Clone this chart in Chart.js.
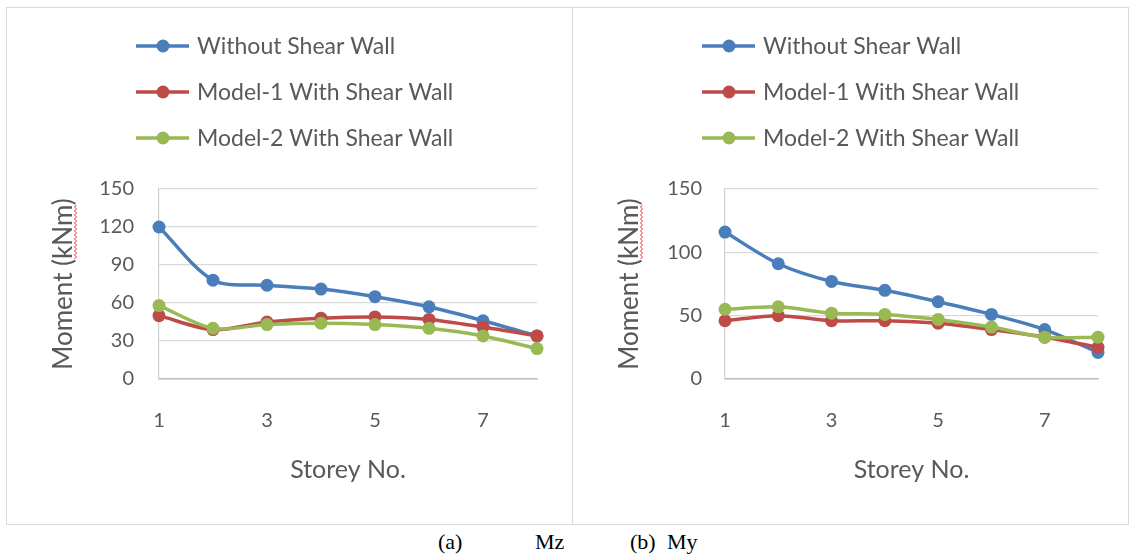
<!DOCTYPE html>
<html>
<head>
<meta charset="utf-8">
<script src="https://cdn.jsdelivr.net/npm/chart.js"></script>
<style>
  html, body { margin: 0; padding: 0; background: #fff; }
  body { width: 1130px; height: 559px; position: relative; overflow: hidden; }
  .box { position: absolute; top: 7px; height: 516px; border: 1px solid #d9d9d9; background: #fff; }
  #boxMz { left: 6px; width: 565px; }
  #boxMy { left: 572px; width: 555px; }
  .cap { position: absolute; top: 529px; font-family: "Liberation Serif", "DejaVu Serif", serif; font-size: 22px; color: #000; }
</style>
</head>
<body>
<div class="box" id="boxMz"><canvas id="graficoMz" width="565" height="516"></canvas></div>
<div class="box" id="boxMy"><canvas id="graficoMy" width="555" height="516"></canvas></div>
<span class="cap" style="left:438px">(a)</span>
<span class="cap" style="left:535px">Mz</span>
<span class="cap" style="left:630px">(b)</span>
<span class="cap" style="left:667px">My</span>
<script>
// dados
const storeys = ['1', '2', '3', '4', '5', '6', '7', '8'];
const seriesNames = ['Without Shear Wall', 'Model-1 With Shear Wall', 'Model-2 With Shear Wall'];

const mzWithout = [120, 78, 74, 71, 65, 57, 46, 34];
const mzModel1 = [50, 39, 45, 48, 49, 47, 41, 34];
const mzModel2 = [58, 40, 43, 44, 43, 40, 34, 24];

const myWithout = [116, 91, 77, 70, 61, 51, 39, 21];
const myModel1 = [46, 50, 46, 46, 44, 39, 33, 25];
const myModel2 = [55, 57, 52, 51, 47, 41, 33, 33];

const mzTicks = [0, 30, 60, 90, 120, 150];
const myTicks = [0, 50, 100, 150];

const cores = ['#4a7ebb', '#be4b48', '#98b954'];
const corTexto = '#595959';
const fonte = 'Lato, "Open Sans", sans-serif';
const tituloY = 'Moment (kNm)';
const tamTituloY = 26;

// legenda vertical desenhada a partir dos datasets
const legendaVertical = {
    id: 'legendaVertical',
    afterDraw(chart) {
        const ctx = chart.ctx;
        ctx.save();
        chart.data.datasets.forEach((ds, i) => {
            const y = 38 + i * 46;
            ctx.strokeStyle = ds.borderColor;
            ctx.lineWidth = 3.5;
            ctx.beginPath();
            ctx.moveTo(129, y);
            ctx.lineTo(182, y);
            ctx.stroke();
            ctx.fillStyle = ds.backgroundColor;
            ctx.beginPath();
            ctx.arc(156, y, 6.5, 0, Math.PI * 2);
            ctx.fill();
            ctx.fillStyle = corTexto;
            ctx.font = '23px ' + fonte;
            ctx.textBaseline = 'middle';
            ctx.fillText(ds.label, 190, y + 1);
        });
        ctx.restore();
    }
};

// sublinhado ondulado vermelho (corretor ortográfico) sob "kNm"
const sublinhadoKNm = {
    id: 'sublinhadoKNm',
    afterDraw(chart) {
        const ctx = chart.ctx;
        const yScale = chart.scales.y;
        const cy = (yScale.top + yScale.bottom) / 2;
        const cx = yScale.left + 1 + tamTituloY * 0.6;
        ctx.save();
        ctx.font = tamTituloY + 'px ' + fonte;
        const total = ctx.measureText(tituloY).width;
        const ini = ctx.measureText('Moment (').width;
        const fim = ctx.measureText('Moment (kNm').width;
        ctx.translate(cx, cy);
        ctx.rotate(-Math.PI / 2);
        ctx.strokeStyle = '#e03030';
        ctx.lineWidth = 1;
        ctx.beginPath();
        const base = tamTituloY * 0.42;
        for (let x = -total / 2 + ini, k = 0; x <= -total / 2 + fim; x += 2, k++) {
            const yy = base + (k % 2 === 0 ? 0 : 2);
            if (k === 0) ctx.moveTo(x, yy); else ctx.lineTo(x, yy);
        }
        ctx.stroke();
        ctx.restore();
    }
};

function criaGrafico(id, valores, ticks, padRight, padTicks) {
    const tickSet = ticks.slice();
    return new Chart(document.getElementById(id), {
        type: 'line',
        data: {
            labels: storeys,
            datasets: valores.map((v, i) => ({
                label: seriesNames[i],
                data: v,
                order: valores.length - 1 - i,
                borderColor: cores[i],
                backgroundColor: cores[i],
                borderWidth: 3.5,
                pointRadius: 6.5,
                pointHoverRadius: 6.5,
                pointBorderWidth: 0,
                tension: 0.3
            }))
        },
        options: {
            responsive: false,
            animation: false,
            events: [],
            clip: false,
            layout: { padding: { left: 40, top: 181, right: padRight, bottom: 35 } },
            plugins: { legend: { display: false }, tooltip: { enabled: false } },
            scales: {
                x: {
                    offset: false,
                    grid: { display: false, drawTicks: false },
                    border: { color: '#bfbfbf', width: 1.5 },
                    ticks: {
                        autoSkip: false,
                        maxRotation: 0,
                        padding: 30,
                        color: corTexto,
                        font: { family: fonte, size: 20 },
                        callback: function (val, idx) { return idx % 2 === 0 ? this.getLabelForValue(val) : ''; }
                    },
                    title: { display: true, text: 'Storey No.', color: corTexto, font: { family: fonte, size: 25 }, padding: { top: 4, bottom: 4 } },
                    afterFit(scale) { scale.height = 110; }
                },
                y: {
                    min: 0,
                    max: 150,
                    afterBuildTicks(scale) { scale.ticks = tickSet.map(v => ({ value: v })); },
                    grid: { color: '#d9d9d9', lineWidth: 1.2, drawTicks: false },
                    border: { color: '#d0d0d0', width: 1.2 },
                    ticks: { padding: padTicks, color: corTexto, font: { family: fonte, size: 20 } },
                    title: { display: true, text: tituloY, color: corTexto, font: { family: fonte, size: tamTituloY }, padding: { top: 1, bottom: 4 } },
                    afterFit(scale) { scale.width = 112; }
                }
            }
        },
        plugins: [legendaVertical, sublinhadoKNm]
    });
}

const graficoMz = criaGrafico('graficoMz', [mzWithout, mzModel1, mzModel2], mzTicks, 35, 25);
const graficoMy = criaGrafico('graficoMy', [myWithout, myModel1, myModel2], myTicks, 22, 23);
</script>
</body>
</html>
